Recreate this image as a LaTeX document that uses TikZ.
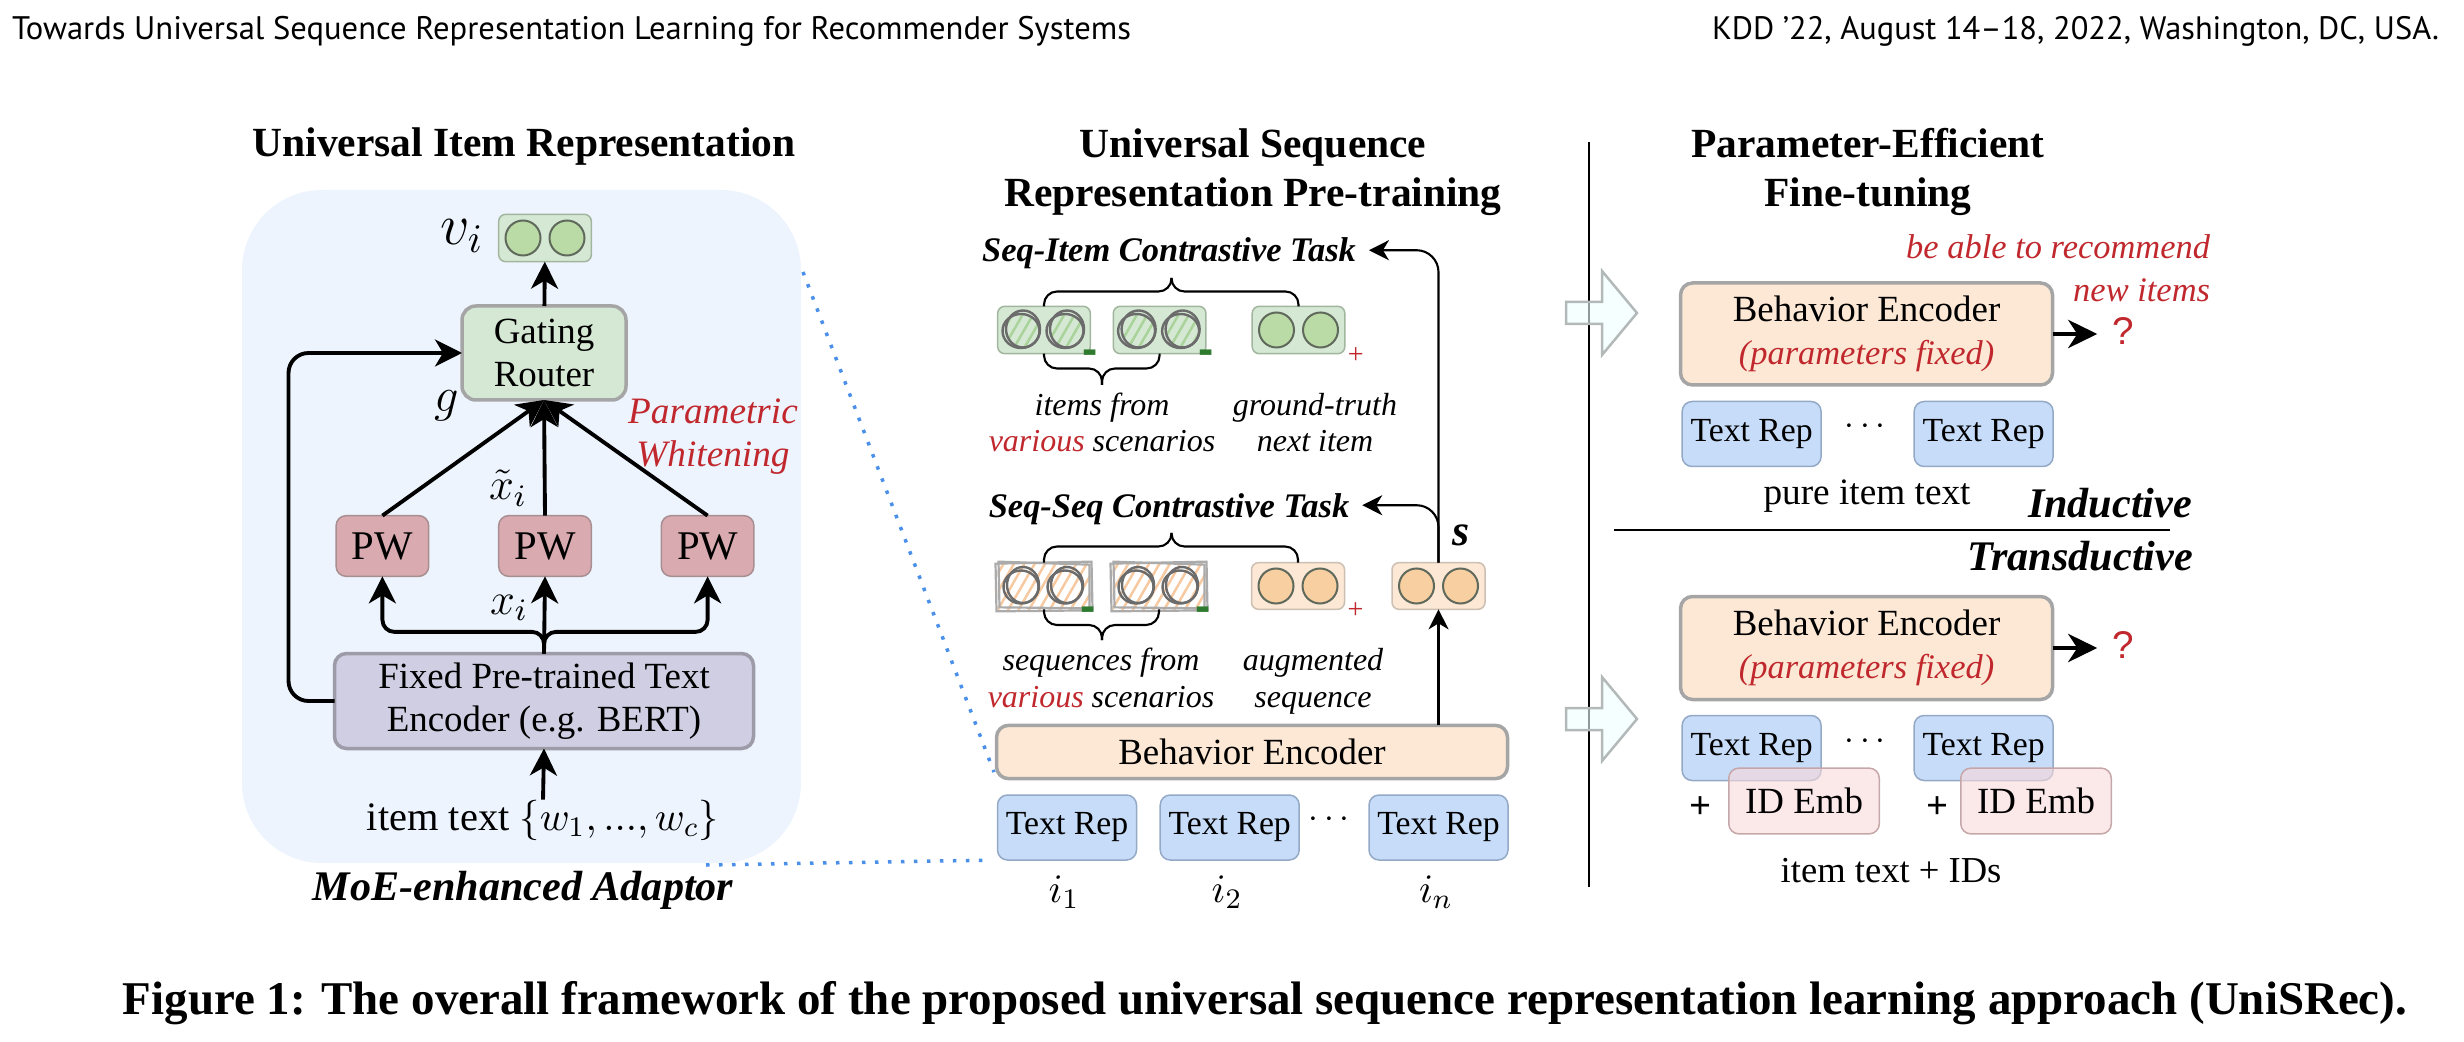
\RequirePackage{fix-cm}
\documentclass[tikz,border=0pt]{standalone}
\usepackage[no-math]{fontspec}
\setmainfont{Liberation Serif}
\newfontfamily\headfont{PT Sans}
\newfontfamily\qfont{Liberation Sans}
\usepackage{amsmath}
\usepackage{graphicx}
\usetikzlibrary{arrows.meta, positioning, patterns.meta, calc}

\definecolor{panelBlue}{HTML}{EDF4FE}
\definecolor{boxGreen}{HTML}{D5E8D4}
\definecolor{lineGreen}{HTML}{A2B59E}
\definecolor{circGreen}{HTML}{BBDBA6}
\definecolor{circLine}{HTML}{5F695C}
\definecolor{hatchGreen}{HTML}{A9D39A}
\definecolor{boxGray}{HTML}{A5A5A5}
\definecolor{pwFill}{HTML}{D9ABB1}
\definecolor{pwLine}{HTML}{A88E91}
\definecolor{encFill}{HTML}{D0CEE2}
\definecolor{encLine}{HTML}{9D9BA7}
\definecolor{beFill}{HTML}{FCE8D5}
\definecolor{circOrange}{HTML}{F7CFA0}
\definecolor{lineOrange}{HTML}{CDBFB1}
\definecolor{hatchOrange}{HTML}{F6C9A0}
\definecolor{repFill}{HTML}{C6DCF9}
\definecolor{repLine}{HTML}{93A9C6}
\definecolor{idFill}{HTML}{F9D8D9}
\definecolor{idLine}{HTML}{C6A7A9}
\definecolor{noteRed}{HTML}{C0282D}
\definecolor{minusGreen}{HTML}{2E7A2E}
\definecolor{dotBlue}{HTML}{4A8FE8}
\definecolor{arrowFill}{HTML}{EFFFFF}
\definecolor{arrowLine}{HTML}{B3B9B9}

\newcommand{\titlesize}{\fontsize{11.8}{14.2}\selectfont}
\newcommand{\bodysize}{\fontsize{10.5}{12.3}\selectfont}
\newcommand{\repsize}{\fontsize{9.6}{11}\selectfont}
\newcommand{\notesize}{\fontsize{9.1}{10.4}\selectfont}
\newcommand{\tasksize}{\fontsize{9.8}{11}\selectfont}
\newcommand{\bigsize}{\fontsize{12}{14}\selectfont}
\newcommand{\mathsize}[1]{\fontsize{#1}{#1}\selectfont}

\begin{document}
\begin{tikzpicture}[x=0.1mm, y=-0.1mm, inner sep=0pt, outer sep=0pt,
    title/.style={font=\titlesize\bfseries, align=center},
    task/.style={font=\tasksize\bfseries\itshape},
    note/.style={font=\notesize\itshape, align=center},
    redNote/.style={font=\fontsize{10.6}{12.4}\selectfont\itshape, text=noteRed, align=center},
    bigLab/.style={font=\bigsize\bfseries\itshape},
    arrL/.style={line width=1.1pt, -{Stealth[length=2.7mm, width=2.7mm, inset=0.8mm]}},
    arrM/.style={line width=0.6pt, -{Stealth[length=2mm, width=2mm, inset=0.6mm]}},
    arrR/.style={line width=1.4pt, -{Stealth[length=2.9mm, width=2.8mm, inset=0.9mm]}},
    braceLine/.style={line width=0.6pt, rounded corners=1.3mm},
    zoomLine/.style={dotBlue, line width=0.35mm, dash pattern=on 0.35mm off 0.95mm},
    vecBox/.style={draw=lineGreen, fill=boxGreen, line width=0.15mm, rounded corners=0.7mm, minimum width=9.26mm, minimum height=4.74mm},
    seqBox/.style={draw=lineOrange, fill=beFill, line width=0.15mm, rounded corners=0.7mm, minimum width=9.3mm, minimum height=4.67mm},
    seqNeg/.style={minimum width=9.3mm, minimum height=4.67mm},
    greenCirc/.style={draw=circLine, fill=circGreen, line width=0.2mm},
    orangeCirc/.style={draw=circLine, fill=circOrange, line width=0.2mm},
    roughLine/.style={draw=black!58, line width=0.24mm},
    roughBox/.style={draw=black!33, line width=0.22mm},
    gateBox/.style={draw=boxGray, fill=boxGreen, line width=0.35mm, rounded corners=1.4mm, minimum width=16.4mm, minimum height=9.4mm, font=\bodysize, align=center},
    pwBox/.style={draw=pwLine, fill=pwFill, line width=0.15mm, rounded corners=1mm, minimum width=9.26mm, minimum height=6.07mm, font=\fontsize{11.6}{13}\selectfont},
    encBox/.style={draw=encLine, fill=encFill, line width=0.35mm, rounded corners=1.2mm, minimum width=41.9mm, minimum height=9.5mm, font=\bodysize, align=center},
    beBox/.style={draw=boxGray, fill=beFill, line width=0.35mm, rounded corners=1.2mm, font=\bodysize, align=center},
    repBox/.style={draw=repLine, fill=repFill, line width=0.15mm, rounded corners=1mm, minimum width=13.9mm, minimum height=6.5mm, font=\repsize},
    idBox/.style={draw=idLine, fill=idFill, line width=0.15mm, rounded corners=1mm, minimum width=15.05mm, minimum height=6.57mm, font=\bodysize, fill opacity=0.6, text opacity=1},
    minusSign/.style={font=\qfont\fontsize{13}{13}\selectfont\bfseries, text=minusGreen},
    plusSign/.style={font=\fontsize{8}{8}\selectfont, text=noteRed},
    qMark/.style={font=\qfont\fontsize{11}{11}\selectfont, text=noteRed},
    blockArrow/.style={draw=arrowLine, fill=arrowFill, line width=0.25mm, fill opacity=0.6}]

  \useasboundingbox (0,0) rectangle (2464,1042);

  % page header and caption
  \node[anchor=base west] (headL) at (12,40) {\resizebox{111.9mm}{!}{\headfont Towards Universal Sequence Representation Learning for Recommender Systems}};
  \node[anchor=base east] (headR) at (2439,40) {\resizebox{72.7mm}{!}{\headfont KDD ’22, August 14–18, 2022, Washington, DC, USA.}};
  \node[anchor=base] (caption) at (1265,1014) {\resizebox{228.4mm}{!}{\bfseries Figure 1: The overall framework of the proposed universal sequence representation learning approach (UniSRec).}};

  % ---------- universal item representation ----------
  \fill[panelBlue, rounded corners=8mm] (242,190) rectangle (801,863);
  \node[title, anchor=base] (titleItem) at (524,157) {Universal Item Representation};

  \node[vecBox] (vi) at (545,238) {};
  \node[font=\mathsize{16.5}] (viLab) at (462,236) {$v_i$};
  \node[gateBox] (gate) at (544,353) {Gating\\Router};
  \node[font=\mathsize{13.8}] (gLab) at (447,406) {$g$};

  \node[pwBox] (pw2) at (545,546) {PW};
  \node[pwBox, left=7mm of pw2] (pw1) {PW};
  \node[pwBox, right=7mm of pw2] (pw3) {PW};
  \node[font=\mathsize{12.7}] (xtLab) at (508,488) {$\tilde{x}_i$};
  \node[font=\mathsize{12.7}] (xLab) at (509,608) {$x_i$};
  \node[redNote, anchor=base] (pwNote) at (713,467) {Parametric\\Whitening};

  \node[encBox] (enc) at (544,701) {Fixed Pre-trained Text\\Encoder (e.g. BERT)};
  \node[anchor=base, font=\fontsize{11.5}{13}\selectfont] (itemText) at (543,830) {item text $\{w_1, ..., w_c\}$};
  \node[bigLab, anchor=base] (moeLab) at (523,900) {MoE-enhanced Adaptor};

  \draw[arrL] (gate) -- (vi);
  \foreach \p in {pw1,pw2,pw3}
    \draw[arrL] (\p.north) -- (gate.south);
  \draw[arrL] (enc.north) -- (pw2.south);
  \draw[arrL, rounded corners=1.2mm] (enc.north) -- ++(0,-21.6) -| (pw1.south);
  \draw[arrL, rounded corners=1.2mm] (enc.north) -- ++(0,-21.6) -| (pw3.south);
  \draw[arrL, rounded corners=2mm] (enc.west) -- ++(-46,0) |- (gate.west);
  \draw[arrL] (itemText.north) -- (enc.south);

  % ---------- universal sequence representation pre-training ----------
  \node[title, anchor=base] (titleSeq) at (1253,207) {Universal Sequence\\Representation Pre-training};

  \node[task, anchor=base] (taskItem) at (1169,262) {Seq-Item Contrastive Task};
  \node[vecBox] (gi1) at (1044,330) {};
  \node[vecBox, right=2.3mm of gi1] (gi2) {};
  \node[vecBox, right=4.63mm of gi2] (gi3) {};
  \node[note, anchor=base] (negItemLab) at (1102,452) {items from\\\textcolor{noteRed}{various} scenarios};
  \node[note, anchor=base] (posItemLab) at (1315,452) {ground-truth\\next item};

  \node[task, anchor=base] (taskSeq) at (1169,517) {Seq-Seq Contrastive Task};
  \node[seqNeg] (oi1) at (1044,586) {};
  \node[seqNeg, right=2.2mm of oi1] (oi2) {};
  \node[seqBox, right=4.6mm of oi2] (oi3) {};
  \node[seqBox] (sv) at (1438.5,586) {};
  \node[font=\fontsize{12.5}{12.5}\selectfont\bfseries\itshape] (sLab) at (1461,535) {s};
  \node[note, anchor=base] (negSeqLab) at (1101,707) {sequences from\\\textcolor{noteRed}{various} scenarios};
  \node[note, anchor=base] (posSeqLab) at (1313,707) {augmented\\sequence};

  \node[beBox, minimum width=51.1mm, minimum height=5.33mm] (beSeq) at (1252,752) {Behavior Encoder};
  \node[repBox] (rep1) at (1067,827.5) {Text Rep};
  \node[repBox, right=2.37mm of rep1] (rep2) {Text Rep};
  \node[repBox] (rep3) at (1438.5,827.5) {Text Rep};
  \node[font=\mathsize{10}] (dotsSeq) at (1332,820) {$\cdots$};
  \node[anchor=base, font=\mathsize{11.5}] (i1) at (1064,902) {$i_1$};
  \node[anchor=base, font=\mathsize{11.5}] (i2) at (1227,902) {$i_2$};
  \node[anchor=base, font=\mathsize{11.5}] (in) at (1436,902) {$i_n$};

  % positive vectors
  \foreach \bx in {vi,gi3}
    \foreach \dx in {-22,22}
      \filldraw[greenCirc] ($(\bx)+(\dx,0)$) circle[radius=17.5];
  \foreach \bx in {oi3,sv}
    \foreach \dx in {-22,22}
      \filldraw[orangeCirc] ($(\bx)+(\dx,0)$) circle[radius=17.5];

  % negative (sketched) vectors
  \foreach \bx in {gi1,gi2}
    \foreach \dx in {-22,22} {
      \path[pattern={Lines[angle=60, distance=0.9mm, line width=0.25mm]}, pattern color=hatchGreen] ($(\bx)+(\dx,0)$) circle[radius=16.5];
      \draw[roughLine] ($(\bx)+(\dx+1,-1)$) ellipse[x radius=17, y radius=18.5];
      \draw[roughLine] ($(\bx)+(\dx-1,1)$) ellipse[x radius=18.5, y radius=17];
    }
  \foreach \bx in {oi1,oi2} {
    \path[pattern={Lines[angle=60, distance=0.9mm, line width=0.25mm]}, pattern color=hatchOrange] (\bx.south west) rectangle (\bx.north east);
    \draw[roughBox] ([shift={(-2,1)}]\bx.north west) -- ([shift={(1,-1)}]\bx.north east) -- ([shift={(2,1)}]\bx.south east) -- ([shift={(-1,2)}]\bx.south west) -- cycle;
    \draw[roughBox] ([shift={(1,-1)}]\bx.north west) -- ([shift={(-1,2)}]\bx.north east) -- ([shift={(-1,-1)}]\bx.south east) -- ([shift={(2,-2)}]\bx.south west) -- cycle;
    \foreach \dx in {-22,22} {
      \draw[roughLine] ($(\bx)+(\dx+1,-1)$) ellipse[x radius=16, y radius=18];
      \draw[roughLine] ($(\bx)+(\dx-1,1)$) ellipse[x radius=17.5, y radius=16.5];
    }
  }

  % signs
  \node[minusSign] (gm1) at ($(gi1.south east)+(0,4)$) {-};
  \node[minusSign] (gm2) at ($(gi2.south east)+(0,4)$) {-};
  \node[plusSign] (gp3) at ($(gi3.south east)+(11,2)$) {+};
  \node[minusSign] (om1) at ($(oi1.south east)+(-2,5)$) {-};
  \node[minusSign] (om2) at ($(oi2.south east)+(-2,5)$) {-};
  \node[plusSign] (op3) at ($(oi3.south east)+(11,1)$) {+};

  % braces
  \coordinate (braceTopI) at (1171.5,278);
  \coordinate (braceBotI) at (1102,385);
  \coordinate (braceTopS) at (1171.5,533);
  \coordinate (braceBotS) at (1102,640);
  \foreach \bx in {gi1,gi3}
    \draw[braceLine] (\bx.north) |- ($(braceTopI)+(0,13.5)$) -- (braceTopI);
  \foreach \bx in {gi1,gi2}
    \draw[braceLine] (\bx.south) |- ($(braceBotI)+(0,-16.5)$) -- (braceBotI);
  \foreach \bx in {oi1,oi3}
    \draw[braceLine] (\bx.north) |- ($(braceTopS)+(0,13.5)$) -- (braceTopS);
  \foreach \bx in {oi1,oi2}
    \draw[braceLine] (\bx.south) |- ($(braceBotS)+(0,-15)$) -- (braceBotS);

  \draw[arrM] (beSeq.north -| sv) -- (sv.south);
  \draw[arrM, rounded corners=2.2mm] (sv.north) |- ($(taskItem.east)+(13,-3.5)$);
  \draw[arrM, rounded corners=2.2mm] (sv.north) |- ($(taskSeq.east)+(13,-3.5)$);

  % zoom lines
  \coordinate (zoomTop) at (803,272);
  \coordinate (zoomBot) at (706,865);
  \draw[zoomLine, shorten >=0.7mm] (zoomTop) -- (beSeq.south west);
  \draw[zoomLine, shorten >=0.9mm] (zoomBot) -- (rep1.south west);

  % ---------- parameter-efficient fine-tuning ----------
  \coordinate (sepTop) at (1589,142);
  \coordinate (sepBot) at (1589,887);
  \draw[line width=0.2mm] (sepTop) -- (sepBot);
  \foreach \ay in {313,719}
    \draw[blockArrow, shift={(0,\ay)}] (1566,-11) -- (1602,-11) -- (1602,-42) -- (1637,0) -- (1602,42) -- (1602,11) -- (1566,11) -- cycle;

  \node[title, anchor=base] (titleTune) at (1868,207) {Parameter-Efficient\\Fine-tuning};
  \node[redNote, font=\fontsize{9.8}{12.3}\selectfont\itshape, align=right, anchor=base east] (newNote) at (2210,302) {be able to recommend\\new items};

  \node[beBox, minimum width=37.2mm, minimum height=10.2mm] (beInd) at (1866.5,334) {Behavior Encoder\\{\fontsize{9.8}{11.8}\selectfont\itshape\color{noteRed}(parameters fixed)}};
  \node[qMark] (qInd) at (2123,331) {?};
  \draw[arrR, shorten >=1.5mm] (beInd.east) -- (beInd.east -| qInd.west);
  \node[repBox] (repA) at (1751.6,434) {Text Rep};
  \node[repBox, right=9.3mm of repA] (repB) {Text Rep};
  \node[font=\mathsize{10}] (dotsInd) at (1868,427) {$\cdots$};
  \node[anchor=base, font=\fontsize{10.6}{12}\selectfont] (pureLab) at (1867,505) {pure item text};
  \node[bigLab, anchor=base] (indLab) at (2110,517) {Inductive};

  \coordinate (splitL) at (1614,530);
  \coordinate (splitR) at (2170,530);
  \draw[line width=0.2mm] (splitL) -- (splitR);
  \node[bigLab, anchor=base] (traLab) at (2080,570) {Transductive};

  \node[beBox, minimum width=37.2mm, minimum height=10.3mm] (beTra) at (1866.5,648) {Behavior Encoder\\{\fontsize{9.8}{11.8}\selectfont\itshape\color{noteRed}(parameters fixed)}};
  \node[qMark] (qTra) at (2123,645) {?};
  \draw[arrR, shorten >=1.5mm] (beTra.east) -- (beTra.east -| qTra.west);
  \node[repBox] (repC) at (1751.6,748) {Text Rep};
  \node[repBox, right=9.3mm of repC] (repD) {Text Rep};
  \node[idBox] (idA) at (1804,801) {ID Emb};
  \node[idBox] (idB) at (2036,801) {ID Emb};
  \node[font=\fontsize{11}{11}\selectfont\bfseries] (plusA) at (1700,808) {+};
  \node[font=\fontsize{11}{11}\selectfont\bfseries] (plusB) at (1937,808) {+};
  \node[font=\mathsize{10}] (dotsTra) at (1868,742) {$\cdots$};
  \node[anchor=base, font=\fontsize{10.4}{12}\selectfont] (idsLab) at (1891,882) {item text + IDs};
\end{tikzpicture}
\end{document}
